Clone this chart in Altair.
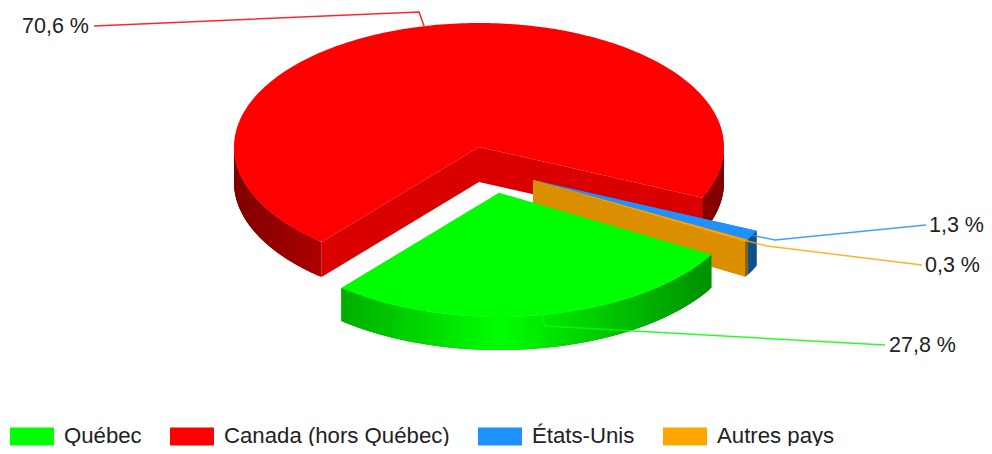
import math
import altair as alt

# ---- chart values
names = ["Québec", "Canada (hors Québec)", "États-Unis", "Autres pays"]
shares = [27.8, 70.6, 1.3, 0.3]
labels = ["27,8 %", "70,6 %", "1,3 %", "0,3 %"]
colors = ["#00FF00", "#FF0000", "#1E90FF", "#FFA500"]

# ---- layout of the tilted pie (page pixels)
ORIGIN = 8
RX, RY = 245, 124
START = 29.9
CENTERS = {"Québec": (499, 193), "Canada (hors Québec)": (479, 147),
           "États-Unis": (533, 180), "Autres pays": (533, 180)}
DEPTHS = {"Québec": 33, "Canada (hors Québec)": 35, "États-Unis": 35, "Autres pays": 35}
PAINT = ["Canada (hors Québec)", "États-Unis", "Autres pays", "Québec"]
LEADERS = {"Québec": ((545, 326), (885, 345), (889, 346)),
           "Canada (hors Québec)": ((419, 12), (94, 26), (22, 27)),
           "États-Unis": ((775, 240), (926, 225), (929, 226)),
           "Autres pays": ((767, 246), (922, 265), (925, 266))}


def shade(color, k):
    r, g, b = (int(color[i:i + 2], 16) for i in (1, 3, 5))
    return "#%02x%02x%02x" % (round(r * k), round(g * k), round(b * k))


def pt(center, deg, dy=0):
    a = math.radians(deg)
    return [center[0] + RX * math.cos(a) - ORIGIN, center[1] + RY * math.sin(a) + dy - ORIGIN]


def feature(ring, color):
    closed = ring + [ring[0]]
    return {"type": "Feature", "properties": {"c": color},
            "geometry": {"type": "Polygon", "coordinates": [closed]}}


ranges = {}
a = START
for n, s in zip(names, shares):
    ranges[n] = (a, a + s * 3.6)
    a += s * 3.6

features = []
for n in PAINT:
    c = colors[names.index(n)]
    ctr = CENTERS[n]
    depth = DEPTHS[n]
    a0, a1 = ranges[n]
    apex = [ctr[0] - ORIGIN, ctr[1] - ORIGIN]
    apexb = [apex[0], apex[1] + depth]
    for e in (a0, a1):
        features.append(feature([apex, pt(ctr, e), pt(ctr, e, depth), apexb], shade(c, 0.86)))
    # outer rim, front half only: narrow shaded strips, each overlapping the next
    step = 0.75
    d = a0
    while d < a1 - 1e-6:
        e = min(d + step, a1)
        e2 = min(e + 2 * step, a1)
        mid = (d + e) / 2
        if math.sin(math.radians(mid)) > -0.02:
            k = 1 - 0.5 * abs(math.cos(math.radians(mid)))
            ring = [pt(ctr, d + (e2 - d) * i / 4) for i in range(5)]
            ring += [pt(ctr, d + (e2 - d) * i / 4, depth) for i in range(4, -1, -1)]
            features.append(feature(ring, shade(c, k)))
        d = e
    top = [apex]
    n_pts = max(2, int((a1 - a0) / 1.0))
    for i in range(n_pts + 1):
        top.append(pt(ctr, a0 + (a1 - a0) * i / n_pts))
    features.append(feature(top, c))

pie = alt.Chart(alt.Data(values=features)).mark_geoshape(strokeWidth=0).encode(
    fill=alt.Fill(field="properties.c", type="nominal", scale=None),
).project(type="identity", scale=1, translate=[0, 0])

line_rows, text_rows = [], []
for n, lab, c in zip(names, labels, colors):
    a0, a1 = ranges[n]
    anchor = pt(CENTERS[n], (a0 + a1) / 2)
    bend, end, tpos = LEADERS[n]
    for i, p in enumerate([anchor, [bend[0] - ORIGIN, bend[1] - ORIGIN], [end[0] - ORIGIN, end[1] - ORIGIN]]):
        line_rows.append({"n": n, "i": i, "x": p[0], "y": p[1], "c": c})
    text_rows.append({"t": lab, "x": tpos[0] - ORIGIN, "y": tpos[1] - ORIGIN})

leaders = alt.Chart(alt.Data(values=line_rows)).mark_line(strokeWidth=1.5, opacity=0.85).encode(
    x=alt.X("x:Q", scale=None, axis=None),
    y=alt.Y("y:Q", scale=None, axis=None),
    detail="n:N",
    order="i:Q",
    stroke=alt.Stroke("c:N", scale=None),
)
texts = alt.Chart(alt.Data(values=text_rows)).mark_text(
    align="left", baseline="middle", font="Liberation Sans", fontSize=21.5, color="#222222"
).encode(
    x=alt.X("x:Q", scale=None, axis=None),
    y=alt.Y("y:Q", scale=None, axis=None),
    text="t:N",
)

legend_rows = [{"n": n} for n in names]
legend = alt.Chart(alt.Data(values=legend_rows)).mark_point(filled=True, size=0, opacity=0).encode(
    x=alt.value(-50),
    y=alt.value(-50),
    color=alt.Color(
        "n:N",
        scale=alt.Scale(domain=names, range=colors),
        legend=alt.Legend(
            title=None, orient="none", legendX=2, legendY=406, direction="horizontal", columns=4,
            symbolType="M-1,-0.41 H1 V0.41 H-1 Z", symbolSize=1936, symbolStrokeWidth=0,
            symbolOpacity=1, labelFont="Liberation Sans", labelFontSize=22.2, labelColor="#222222",
            labelLimit=400, columnPadding=28, labelOffset=10,
        ),
    ),
)

chart = alt.layer(pie, leaders, texts, legend).properties(
    width=976, height=438, padding=0, autosize="none", background="white"
).configure_view(stroke=None)

chart.save("out.html", embed_options={"renderer": "svg", "actions": False})
